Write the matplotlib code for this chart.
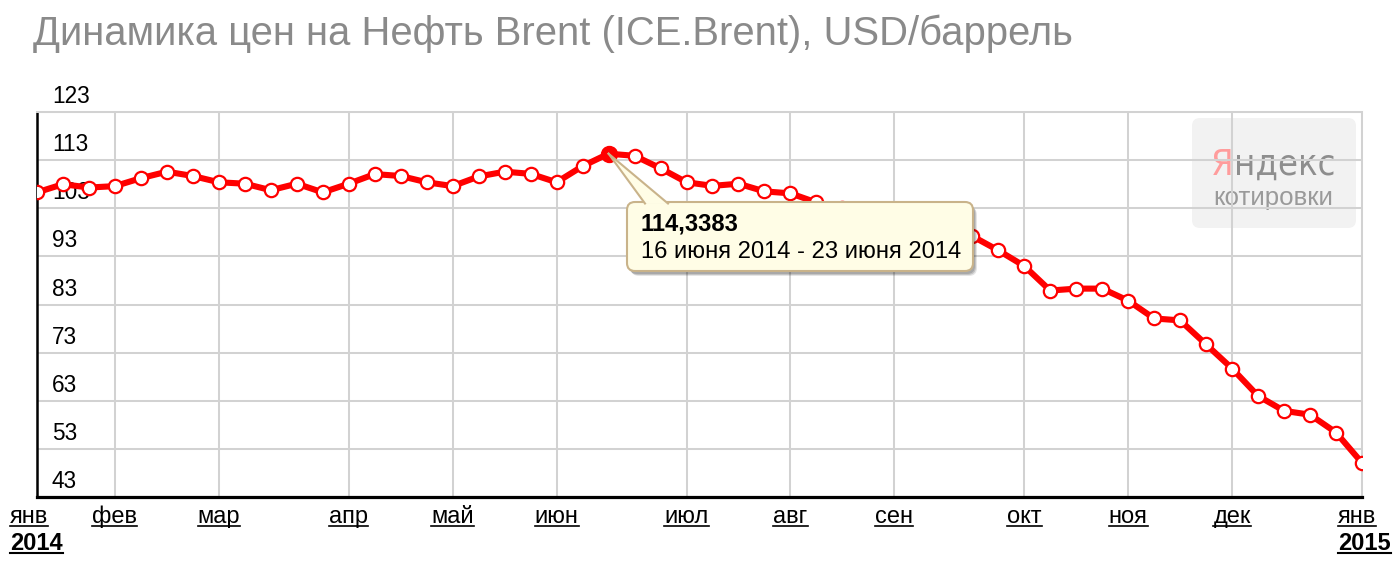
import matplotlib
matplotlib.use('Agg')
import matplotlib.pyplot as plt
import matplotlib.dates as mdates
from matplotlib.patches import FancyBboxPatch, Polygon
from matplotlib.lines import Line2D
from matplotlib.transforms import Affine2D, blended_transform_factory, offset_copy
from matplotlib import font_manager
from matplotlib.font_manager import FontProperties
import pandas as pd

# ---------------- data ----------------
week_start = pd.date_range('2014-01-13', periods=52, freq='7D')
prices = [106.3, 108.0, 107.3, 107.6, 109.25, 110.6, 109.7, 108.4, 108.1, 106.75,
          108.1, 106.3, 108.1, 110.1, 109.7, 108.4, 107.6, 109.6, 110.6, 110.15,
          108.4, 111.75, 114.3383, 113.9, 111.3, 108.4, 107.65, 108.1, 106.5, 106.1,
          104.2, 103.0, 102.4, 101.3, 99.0, 98.3, 97.2, 94.25, 91.0, 85.9,
          86.3, 86.3, 83.8, 80.1, 79.7, 74.7, 69.7, 64.0, 60.9, 60.1,
          56.4, 50.1]
month_ticks = ['2014-01-13', '2014-02-03', '2014-03-03', '2014-04-07', '2014-05-05',
               '2014-06-02', '2014-07-07', '2014-08-04', '2014-09-01', '2014-10-06',
               '2014-11-03', '2014-12-01', '2015-01-05']
month_labels = ['янв', 'фев', 'мар', 'апр', 'май', 'июн', 'июл', 'авг', 'сен',
                'окт', 'ноя', 'дек', 'янв']
year_labels = ['2014', '2015']
y_ticks = [43, 53, 63, 73, 83, 93, 103, 113, 123]
highlight_idx = 22
tooltip_value = '114,3383'
tooltip_dates = '16 июня 2014 - 23 июня 2014'
title = 'Динамика цен на Нефть Brent (ICE.Brent), USD/баррель'

# ---------------- style ----------------
plt.rcParams['font.family'] = ['Liberation Sans', 'DejaVu Sans']

# look for a condensed sans face for the logo
logo_fp = FontProperties(family=['Liberation Sans', 'DejaVu Sans'])
for f in font_manager.fontManager.ttflist:
    fn = f.fname.lower()
    if ('narrow' in fn or 'condensed' in fn) and 'bold' not in fn and 'italic' not in fn \
            and 'oblique' not in fn and 'mono' not in fn and 'serif' not in fn:
        logo_fp = FontProperties(fname=f.fname)
        break

W, H = 1399, 564
fig = plt.figure(figsize=(W / 100, H / 100), dpi=100)
fig.patch.set_facecolor('white')
T = Affine2D().scale(1 / W, -1 / H).translate(0, 1) + fig.transFigure

ax = fig.add_axes([37 / W, (H - 497) / H, (1362 - 37) / W, (497 - 112) / H])
xd = mdates.date2num(week_start.to_pydatetime())
tick_d = mdates.date2num(pd.to_datetime(month_ticks).to_pydatetime())
ax.set_xlim(xd[0], xd[-1])
ax.set_ylim(y_ticks[0], y_ticks[-1])
ax.set_xticks(tick_d)
ax.set_yticks(y_ticks)
ax.tick_params(length=0, labelbottom=False, labelleft=False)
ax.set_axisbelow(True)
ax.grid(True, color='#d2d2d2', lw=1.45)
for s in ['top', 'right']:
    ax.spines[s].set_color('#d2d2d2')
    ax.spines[s].set_linewidth(1.45)
ax.spines['left'].set_color('black')
ax.spines['left'].set_linewidth(1.8)
ax.spines['bottom'].set_color('black')
ax.spines['bottom'].set_linewidth(2.3)
ax.spines['bottom'].set_zorder(5)

# Yandex logo (under grid)
ax.add_patch(FancyBboxPatch((1192, 118), 164, 110, boxstyle='round,pad=0,rounding_size=8',
                            transform=T, facecolor='#f2f2f2', edgecolor='none', zorder=0.1))
ya = ax.text(1211, 175, 'Я', transform=T, color='#ff9c9c', fontproperties=logo_fp,
             va='baseline', ha='left', zorder=0.2)
ndx = ax.text(1240, 175, 'ндекс', transform=T, color='#8e8e8e', fontproperties=logo_fp,
              va='baseline', ha='left', zorder=0.2)
ya.set_fontsize(30); ndx.set_fontsize(30)
kot = ax.text(1213, 205, 'котировки', transform=T, color='#9a9a9a', fontsize=18,
              va='baseline', ha='left', zorder=0.2)

# y tick labels inside the plot
ytr = offset_copy(ax.get_yaxis_transform(), fig=fig, x=15, y=9, units='dots')
for v in y_ticks:
    ax.text(0, v, str(v), transform=ytr, fontsize=16.3, color='black', ha='left',
            va='baseline', zorder=2)

# the series
ax.plot(xd, prices, color='#ff0000', lw=4.4, marker='o', ms=9.6, mfc='white',
        mec='#ff0000', mew=1.6, zorder=3, solid_joinstyle='round')
ax.plot(xd[highlight_idx], prices[highlight_idx], 'o', ms=11.5, color='#ff0000', zorder=4)

# month / year labels
xtr = blended_transform_factory(ax.transData, ax.transAxes)
under = []
n = len(month_labels)
for i, (d, lab) in enumerate(zip(tick_d, month_labels)):
    if i == 0:
        tr = offset_copy(xtr, fig=fig, x=-27, y=-26, units='dots'); ha = 'left'
    elif i == n - 1:
        tr = offset_copy(xtr, fig=fig, x=-24, y=-26, units='dots'); ha = 'left'
    else:
        tr = offset_copy(xtr, fig=fig, x=0, y=-26, units='dots'); ha = 'center'
    t = ax.text(d, 0, lab, transform=tr, fontsize=17, ha=ha, va='baseline', clip_on=False)
    under.append(t)
for d, lab, dx in [(tick_d[0], year_labels[0], -27), (tick_d[-1], year_labels[1], -24)]:
    tr = offset_copy(xtr, fig=fig, x=dx, y=-53, units='dots')
    t = ax.text(d, 0, lab, transform=tr, fontsize=17, fontweight='bold', ha='left',
                va='baseline', clip_on=False)
    under.append(t)

# title
ttl = fig.text(33 / W, 1 - 45 / H, title, fontsize=27, color='#8a8a8a', ha='left', va='baseline')

# tooltip
bx0, by0, bw, bh = 627, 202, 346, 69
cream, tan = '#fffde6', '#c9b38a'
for off, a in [((4, 5), 0.10), ((3, 4), 0.14), ((2, 3), 0.14)]:
    ax.add_patch(FancyBboxPatch((bx0 + off[0], by0 + off[1]), bw, bh,
                                boxstyle='round,pad=0,rounding_size=8', transform=T,
                                facecolor='black', alpha=a, edgecolor='none', zorder=9,
                                clip_on=False))
ax.add_patch(FancyBboxPatch((bx0, by0), bw, bh, boxstyle='round,pad=0,rounding_size=8',
                            transform=T, facecolor=cream, edgecolor=tan, lw=1.5, zorder=10,
                            clip_on=False))
fig.canvas.draw()
apex_disp = ax.transData.transform((xd[highlight_idx], prices[highlight_idx]))
apx, apy = T.inverted().transform(apex_disp)
p1, p2 = (645, by0 + 1.5), (668, by0 + 1.5)
ax.add_patch(Polygon([(apx, apy), p1, p2], closed=True, transform=T, facecolor=cream,
                     edgecolor='none', zorder=11, clip_on=False))
for p in (p1, p2):
    ax.add_line(Line2D([apx, p[0]], [apy, p[1]], transform=T, color=tan, lw=1.5,
                       zorder=11, clip_on=False))
tv = ax.text(641, 230, tooltip_value, transform=T, fontsize=15, fontweight='bold',
             ha='left', va='baseline', zorder=12, clip_on=False)
td = ax.text(641, 258, tooltip_dates, transform=T, fontsize=15, ha='left',
             va='baseline', zorder=12, clip_on=False)

# ---- fit text sizes to reference widths ----
r = fig.canvas.get_renderer()
def fit(t, target):
    w = t.get_window_extent(r).width
    t.set_fontsize(t.get_fontsize() * target / w)

fit(ttl, 1042)
fit(td, 321)
tv.set_fontsize(td.get_fontsize())
fit(kot, 120)
tmp = ax.text(0, 0, 'Яндекс', transform=T, fontproperties=logo_fp)
tmp.set_fontsize(30)
w = tmp.get_window_extent(r).width
tmp.remove()
fs = min(30 * 124 / w, 44)
ya.set_fontsize(fs); ndx.set_fontsize(fs)
wy = ya.get_window_extent(r).width
ndx.set_position((1211 + wy, 175))

# underlines for axis labels
fig.canvas.draw()
inv = fig.transFigure.inverted()
for t in under:
    bb = t.get_window_extent(r)
    base = t.get_transform().transform(t.get_position())[1]
    yline = base - 3
    (fx0, fy), (fx1, _) = inv.transform([(bb.x0, yline), (bb.x1, yline)])
    fig.add_artist(Line2D([fx0, fx1], [fy, fy], transform=fig.transFigure, color='black',
                          lw=1.2 if t.get_fontweight() != 'bold' else 1.5))

fig.savefig('out.png', dpi=100, facecolor='white')
